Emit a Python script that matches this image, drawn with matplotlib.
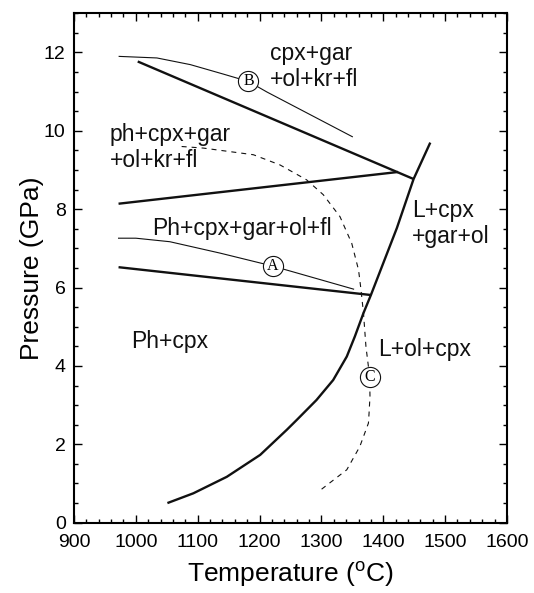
import matplotlib
matplotlib.use('Agg')
import matplotlib.pyplot as plt
from matplotlib.ticker import MultipleLocator

plt.rcParams['font.family'] = ['Liberation Sans', 'DejaVu Sans']
plt.rcParams['mathtext.fontset'] = 'custom'
plt.rcParams['mathtext.rm'] = 'Liberation Sans'

# Solidus (thick curve)
solidus_t = [1051, 1093, 1147, 1201, 1244, 1260, 1292, 1319, 1341, 1354, 1368, 1380, 1422, 1449, 1476]
solidus_p = [0.50, 0.75, 1.17, 1.73, 2.37, 2.62, 3.13, 3.64, 4.24, 4.75, 5.35, 5.81, 7.52, 8.77, 9.70]

# Straight phase boundaries (thick)
low_t = [972, 1380]
low_p = [6.52, 5.81]
mid_t = [972, 1424]
mid_p = [8.14, 8.95]
high_t = [1003, 1449]
high_p = [11.77, 8.77]

# Thin curves A and B, dashed curve C
a_t = [972, 1000, 1055, 1136, 1221, 1352]
a_p = [7.26, 7.26, 7.17, 6.88, 6.55, 5.96]
b_t = [973, 1034, 1088, 1141, 1182, 1212, 1350]
b_p = [11.90, 11.86, 11.69, 11.45, 11.26, 10.99, 9.85]
c_t = [1074, 1109, 1190, 1233, 1276, 1303, 1330, 1349, 1360, 1362, 1364, 1368, 1372,
       1378, 1378.5, 1377, 1376, 1362, 1341, 1295]
c_p = [9.60, 9.56, 9.39, 9.13, 8.75, 8.37, 7.81, 7.13, 6.45, 6.20, 5.94, 5.35, 4.49,
       3.73, 3.22, 2.79, 2.54, 1.94, 1.35, 0.79]

# Circled labels
marks = ['A', 'B', 'C']
mark_t = [1221, 1182, 1378]
mark_p = [6.55, 11.26, 3.73]

# Field labels
fields = ['cpx+gar\n+ol+kr+fl', 'ph+cpx+gar\n+ol+kr+fl', 'Ph+cpx+gar+ol+fl',
          'L+cpx\n+gar+ol', 'Ph+cpx', 'L+ol+cpx']
field_t = [1217, 958, 1026, 1447, 993, 1392]
field_p = [11.65, 9.58, 7.52, 7.64, 4.62, 4.43]

fig = plt.figure(figsize=(5.34, 5.93), dpi=100)
ax = fig.add_axes([0.1386, 0.1186, 0.8108, 0.859])

thick = dict(color='#111111', lw=1.7, solid_capstyle='butt', solid_joinstyle='round')
ax.plot(solidus_t, solidus_p, **thick)
ax.plot(low_t, low_p, **thick)
ax.plot(mid_t, mid_p, **thick)
ax.plot(high_t, high_p, **thick)

ax.plot(a_t, a_p, color='#111111', lw=0.8)
ax.plot(b_t, b_p, color='#111111', lw=0.8)
ax.plot(c_t, c_p, color='#111111', lw=0.8, dashes=(4.5, 4.5))

for m, t, p in zip(marks, mark_t, mark_p):
    ax.plot(t, p, 'o', ms=14.5, mfc='white', mec='#111111', mew=0.8, zorder=5)
    ax.text(t, p, m, ha='center', va='center', fontsize=11.5,
            family=['Liberation Serif', 'DejaVu Serif'], zorder=6)

for s, t, p in zip(fields, field_t, field_p):
    ax.text(t, p, s, ha='left', va='center', fontsize=16.5, linespacing=1.15,
            color='#111111')

ax.set_xlim(900, 1600)
ax.set_ylim(0, 13)
ax.xaxis.set_major_locator(MultipleLocator(100))
ax.xaxis.set_minor_locator(MultipleLocator(20))
ax.yaxis.set_major_locator(MultipleLocator(2))
ax.yaxis.set_minor_locator(MultipleLocator(0.5))
ax.tick_params(which='both', direction='in', top=True, right=True, width=1.0,
               labelsize=14)
ax.tick_params(which='major', length=5.5)
ax.tick_params(which='minor', length=3)
ax.tick_params(axis='x', pad=8)
ax.tick_params(axis='y', pad=6)
for sp in ax.spines.values():
    sp.set_linewidth(1.5)

ax.set_xlabel('Temperature ($^{\\rm o}$C)', fontsize=19, labelpad=6)
ax.set_ylabel('Pressure (GPa)', fontsize=19, labelpad=0)

fig.savefig('out.png', dpi=100)
